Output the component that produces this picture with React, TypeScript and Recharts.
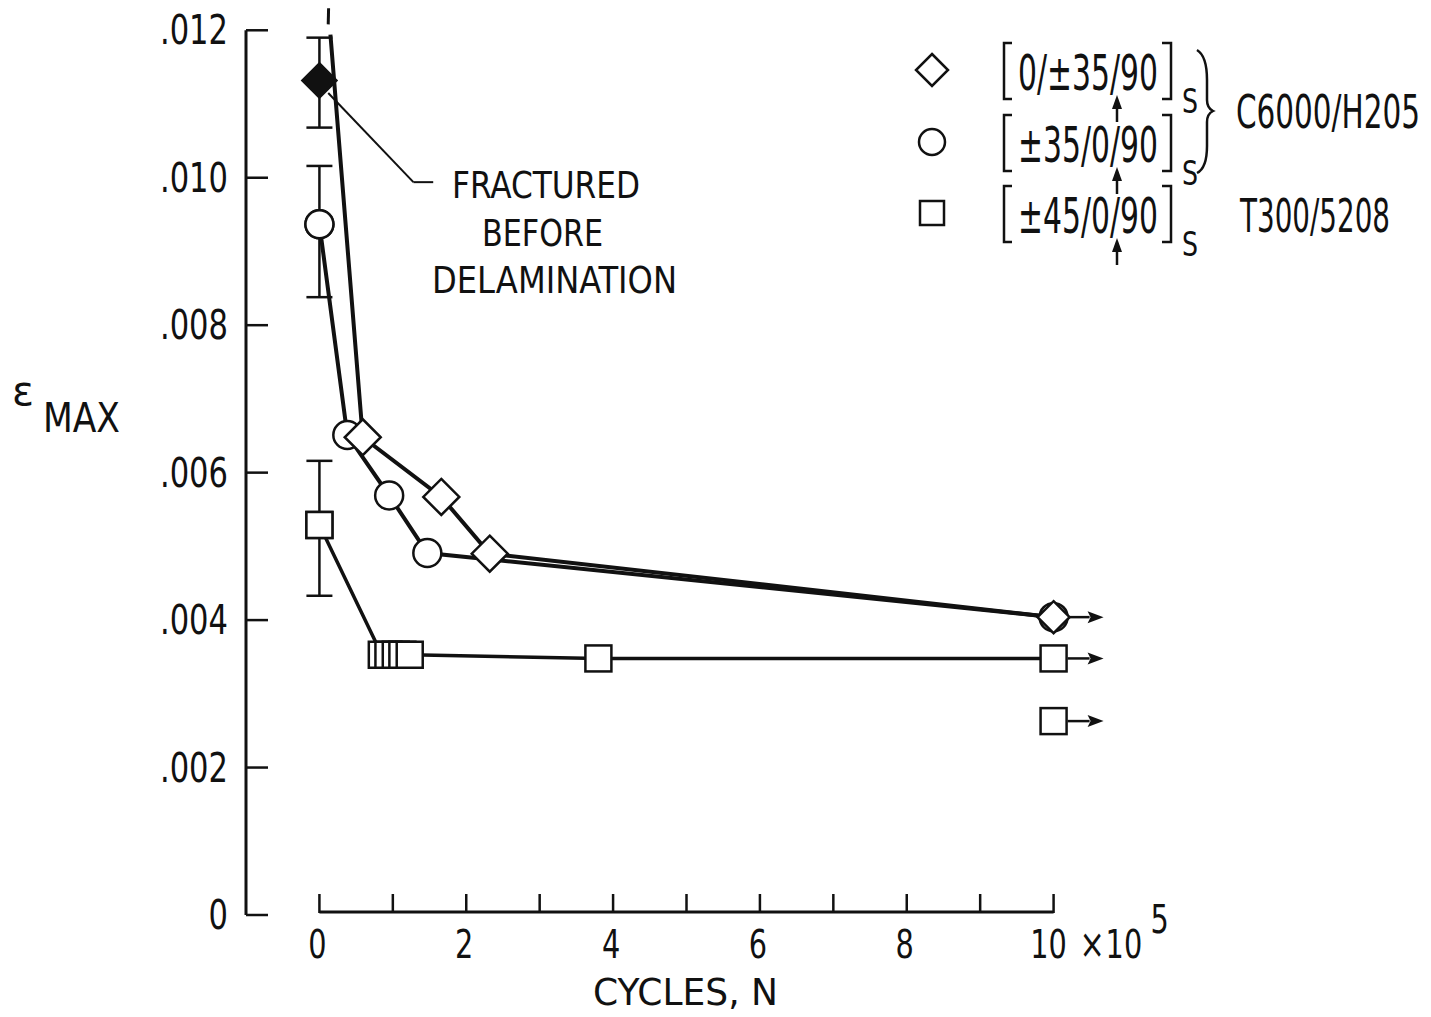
import React from 'react';
import {
  ComposedChart, Line, Scatter, XAxis, YAxis, ErrorBar, ReferenceLine, Legend, Customized,
} from 'recharts';

const INK = '#111';
const FONT = "'Liberation Sans Narrow', 'DejaVu Sans Condensed', 'Liberation Sans', sans-serif";

// cycles (x 10^5) and max strain, one pair of arrays per layup
const diamondN = [0.15, 0.59, 1.66, 2.32, 10];
const diamondEps = [0.01194, 0.00648, 0.00567, 0.0049, 0.00404];
const circleN = [0, 0.38, 0.95, 1.47, 10];
const circleEps = [0.00937, 0.00651, 0.00569, 0.00491, 0.00404];
const squareN = [0, 0.85, 0.94, 1.04, 1.13, 1.23, 3.8, 10];
const squareEps = [0.00529, 0.00353, 0.00353, 0.00353, 0.00353, 0.00353, 0.00348, 0.00348];

// static strength at N = 0 with scatter band [below, above]
const fracturedEps = 0.01132;
const fracturedErr = [0.00064, 0.00058];
const circleErr = [0.00099, 0.00079];
const squareErr = [0.00096, 0.00087];

// runouts at 10^6 cycles
const runoutEps = [0.00404, 0.00348, 0.00263];
const loneSquareEps = 0.00263;

const xTicks = [0, 1, 2, 3, 4, 5, 6, 7, 8, 9, 10];
const xTickLabels = ['0', '', '2', '', '4', '', '6', '', '8', '', '10'];
const yTicks = [0, 0.002, 0.004, 0.006, 0.008, 0.01, 0.012];
const yTickLabels = ['0', '.002', '.004', '.006', '.008', '.010', '.012'];

const legendLabels = ['0/\u00b135/90', '\u00b135/0/90', '\u00b145/0/90'];
const legendShapes = ['diamond', 'circle', 'square'];
const materialLabels = ['C6000/H205', 'T300/5208'];

const pts = (xs: number[], ys: number[]) => xs.map((x, i) => ({ x, y: ys[i] }));

// narrow lettering: squeeze horizontally, then pin the width
const NarrowText = ({ x, y, w, sx = 0.8, size, anchor = 'start', children }: any) => (
  <text transform={`translate(${x},${y}) scale(${sx},1)`} fontSize={size} textAnchor={anchor}
    textLength={w ? w / sx : undefined} lengthAdjust={w ? 'spacingAndGlyphs' : undefined}
    fontFamily={FONT} fill={INK}>
    {children}
  </text>
);

const Diamond = ({ cx, cy, r = 18, fill = '#fff' }: any) => (
  <path d={`M${cx},${cy - r}L${cx + r},${cy}L${cx},${cy + r}L${cx - r},${cy}Z`}
    fill={fill} stroke={INK} strokeWidth={2.5} />
);
const Circle = ({ cx, cy, r = 14 }: any) => (
  <circle cx={cx} cy={cy} r={r} fill="#fff" stroke={INK} strokeWidth={2.5} />
);
const Square = ({ cx, cy, r = 13 }: any) => (
  <rect x={cx - r} y={cy - r} width={2 * r} height={2 * r} fill="#fff" stroke={INK} strokeWidth={2.5} />
);
const Marker = ({ shape, ...p }: any) =>
  shape === 'diamond' ? <Diamond {...p} /> : shape === 'circle' ? <Circle {...p} /> : <Square {...p} />;

const RunoutArrow = ({ cx, cy }: any) => (
  <g>
    <line x1={cx + 14} y1={cy} x2={cx + 36} y2={cy} stroke={INK} strokeWidth={2.5} />
    <path d={`M${cx + 50},${cy}L${cx + 34},${cy - 6}L${cx + 37},${cy}L${cx + 34},${cy + 6}Z`} fill={INK} />
  </g>
);

const XTick = ({ x, y, payload }: any) => {
  const i = xTicks.indexOf(payload.value);
  const label = xTickLabels[i];
  const last = i === xTicks.length - 1;
  return (
    <g>
      <line x1={x} y1={y - 2} x2={x} y2={y - 21} stroke={INK} strokeWidth={2.5} />
      {label && (
        <NarrowText x={last ? x - 5 : x - 2} y={y + 43} size={39} sx={0.82} anchor="middle">{label}</NarrowText>
      )}
      {last && (
        <g>
          <NarrowText x={x + 26} y={y + 43} size={41} sx={0.82}>{'\u00d7'}</NarrowText>
          <NarrowText x={x + 52} y={y + 43} size={39} sx={0.82}>10</NarrowText>
          <NarrowText x={x + 97} y={y + 18} size={39} sx={0.82}>5</NarrowText>
        </g>
      )}
    </g>
  );
};

const YTick = ({ x, y, payload }: any) => {
  const label = yTickLabels[yTicks.indexOf(payload.value)];
  return (
    <g>
      <line x1={x} y1={y} x2={x + 22} y2={y} stroke={INK} strokeWidth={2.5} />
      <NarrowText x={x - 18} y={y + 14} size={40} sx={0.85} anchor="end">{label}</NarrowText>
    </g>
  );
};

const UpArrow = ({ x, tip, tail }: any) => (
  <g>
    <line x1={x} y1={tip + 10} x2={x} y2={tail} stroke={INK} strokeWidth={2.5} />
    <path d={`M${x},${tip}L${x - 5},${tip + 14}L${x + 5},${tip + 14}Z`} fill={INK} />
  </g>
);

const LegendBox = () => {
  const baselines = [90, 162, 233];
  const markerY = [70, 142, 213];
  return (
    <svg width={540} height={270} style={{ overflow: 'visible' }}>
      <g transform="translate(-890,-30)">
        {legendLabels.map((label, i) => {
          const b = baselines[i];
          return (
            <g key={label}>
              <Marker shape={legendShapes[i]} cx={932} cy={markerY[i]} r={i === 0 ? 16 : i === 1 ? 13 : 12} />
              <path d={`M1012,${b - 47}L1004,${b - 47}L1004,${b + 9}L1012,${b + 9}`} fill="none" stroke={INK} strokeWidth={2.5} />
              <path d={`M1162,${b - 47}L1171,${b - 47}L1171,${b + 9}L1162,${b + 9}`} fill="none" stroke={INK} strokeWidth={2.5} />
              <NarrowText x={1018} y={b} size={50} w={140} sx={0.68}>{label}</NarrowText>
              <NarrowText x={1182} y={b + 23} size={33} sx={0.85}>S</NarrowText>
              <UpArrow x={1117} tip={b + 5} tail={b + 32} />
            </g>
          );
        })}
        <path d="M1197,50 Q1207,56 1207,80 L1207,100 Q1207,108 1213,111 Q1207,114 1207,122 L1207,146 Q1207,168 1197,173"
          fill="none" stroke={INK} strokeWidth={2.5} />
        <NarrowText x={1236} y={128} size={46} w={184} sx={0.71}>{materialLabels[0]}</NarrowText>
        <NarrowText x={1240} y={232} size={46} w={150} sx={0.67}>{materialLabels[1]}</NarrowText>
      </g>
    </svg>
  );
};

const Annotations = () => (
  <g>
    <NarrowText x={12} y={405} size={40} w={22} sx={0.9}>{'\u03b5'}</NarrowText>
    <NarrowText x={43} y={432} size={40} w={77} sx={0.95}>MAX</NarrowText>
    <NarrowText x={452} y={198} size={38} w={188} sx={0.9}>FRACTURED</NarrowText>
    <NarrowText x={482} y={246} size={38} w={121} sx={0.88}>BEFORE</NarrowText>
    <NarrowText x={432} y={293} size={38} w={245} sx={0.93}>DELAMINATION</NarrowText>
    <NarrowText x={593} y={1005} size={38} w={185} sx={0.9}>CYCLES, N</NarrowText>
  </g>
);

export default function App() {
  const diamondData = pts(diamondN, diamondEps);
  const circleData = pts(circleN, circleEps);
  const squareData = pts(squareN, squareEps);
  const firstPoints = [
    { x: 0, y: fracturedEps, err: fracturedErr, shape: 'filled' },
    { x: 0, y: circleEps[0], err: circleErr, shape: 'circle' },
    { x: 0, y: squareEps[0], err: squareErr, shape: 'square' },
  ];
  const runouts = runoutEps.map((y) => ({ x: 10, y }));

  return (
    <div style={{ position: 'absolute', left: 0, top: 0, width: 1431, height: 1017, background: '#fff' }}>
      <ComposedChart width={1431} height={1017} margin={{ top: 3, right: 304, bottom: 0, left: 0 }}>
        <XAxis dataKey="x" type="number" domain={[-1, 11]} ticks={xTicks} interval={0}
          axisLine={false} tickLine={false} tickSize={0} tickMargin={0} height={102} tick={<XTick />} />
        <YAxis type="number" domain={[0, 0.01237]} ticks={yTicks} interval={0} width={246}
          axisLine={false} tickLine={false} tickSize={0} tickMargin={0} tick={<YTick />} />
        <ReferenceLine segment={[{ x: -1, y: 0 }, { x: -1, y: 0.012 }]} stroke={INK} strokeWidth={3} />
        <ReferenceLine segment={[{ x: 0, y: 0.00004 }, { x: 10, y: 0.00004 }]} stroke={INK} strokeWidth={3} />
        <ReferenceLine segment={[{ x: 0.12, y: 0.01208 }, { x: 0.125, y: 0.0123 }]} stroke={INK} strokeWidth={3} />
        <ReferenceLine segment={[{ x: 0.12, y: 0.01115 }, { x: 1.28, y: 0.00994 }]} stroke={INK} strokeWidth={2} />
        <ReferenceLine segment={[{ x: 1.28, y: 0.00994 }, { x: 1.55, y: 0.00994 }]} stroke={INK} strokeWidth={2} />

        <Scatter data={firstPoints} dataKey="y" isAnimationActive={false}
          shape={(p: any) => p.payload.shape === 'filled'
            ? <Diamond cx={p.cx} cy={p.cy} r={17} fill={INK} />
            : <Marker shape={p.payload.shape} cx={p.cx} cy={p.cy} />}>
          <ErrorBar dataKey="err" direction="y" width={13} stroke={INK} strokeWidth={2.5} />
        </Scatter>

        <Line data={squareData} dataKey="y" type="linear" stroke={INK} strokeWidth={3.5}
          isAnimationActive={false} activeDot={false}
          dot={(p: any) => <Square key={`s${p.index}`} cx={p.cx} cy={p.cy} />} />
        <Line data={circleData} dataKey="y" type="linear" stroke={INK} strokeWidth={4}
          isAnimationActive={false} activeDot={false}
          dot={(p: any) => <Circle key={`c${p.index}`} cx={p.cx} cy={p.cy} />} />
        <Line data={diamondData} dataKey="y" type="linear" stroke={INK} strokeWidth={4}
          isAnimationActive={false} activeDot={false}
          dot={(p: any) => p.index === 0
            ? <g key="d0" />
            : <Diamond key={`d${p.index}`} cx={p.cx} cy={p.cy} r={p.index === 4 ? 16 : 18} />} />

        <Scatter data={[{ x: 10, y: loneSquareEps }]} dataKey="y" isAnimationActive={false}
          shape={(p: any) => <Square cx={p.cx} cy={p.cy} />} />
        <Scatter data={runouts} dataKey="y" isAnimationActive={false}
          shape={(p: any) => <RunoutArrow cx={p.cx} cy={p.cy} />} />

        <Customized component={Annotations} />
        <Legend content={<LegendBox />} layout="vertical" align="center" verticalAlign="middle"
          wrapperStyle={{ left: 890, top: 30, width: 540, height: 270 }} />
      </ComposedChart>
    </div>
  );
}
